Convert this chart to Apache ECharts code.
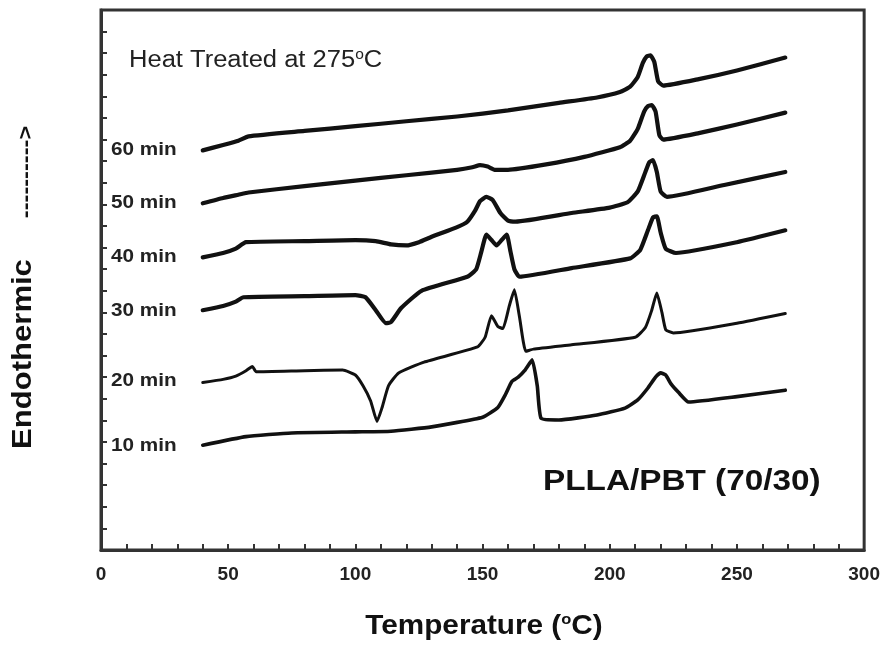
<!DOCTYPE html>
<html>
<head>
<meta charset="utf-8">
<script src="https://cdn.jsdelivr.net/npm/echarts@6/dist/echarts.min.js"></script>
<style>
html,body{margin:0;padding:0;background:#fff;}
#chart{width:883px;height:646px;}
</style>
</head>
<body>
<div id="chart"></div>
<script>
// x tick labels (°C)
const xTicks = [0, 50, 100, 150, 200, 250, 300];
// series names
const curveNames = ['60 min', '50 min', '40 min', '30 min', '20 min', '10 min'];
// DSC traces: [temperature °C, offset heat flow (arb.)]
const min60 = [[40,18.5],[48,18.75],[54,18.95],[58,19.15],[80,19.4],[100,19.62],[120,19.85],[140,20.07],[160,20.35],[180,20.7],[195,20.95],[204,21.2],[208,21.45],[211,21.9],[213,22.55],[214.5,22.85],[216,22.9],[217.5,22.6],[219,21.7],[221,21.5],[235,21.8],[250,22.2],[269,22.8]];
const min50 = [[40,16.05],[48,16.3],[54,16.45],[58,16.55],[80,16.85],[100,17.1],[120,17.35],[140,17.6],[146,17.72],[149,17.82],[152,17.75],[155,17.6],[160,17.6],[175,17.85],[190,18.2],[204,18.65],[208,18.95],[211,19.5],[213.5,20.3],[215,20.55],[216.5,20.6],[218,20.3],[219.5,19.2],[221,19.0],[235,19.3],[250,19.7],[269,20.25]];
const min40 = [[40,13.55],[48,13.75],[53,13.95],[57,14.25],[80,14.3],[100,14.35],[108,14.3],[114,14.15],[120,14.1],[125,14.25],[130,14.5],[140,14.95],[144,15.2],[147,15.7],[149,16.15],[151.5,16.35],[154,16.2],[157,15.6],[160,15.25],[163,15.2],[185,15.6],[200,15.85],[207,16.1],[211,16.6],[214,17.5],[215.5,17.95],[217,18.05],[218.5,17.5],[220,16.6],[222.5,16.35],[245,16.9],[269,17.5]];
const min30 = [[40,11.1],[48,11.3],[53,11.5],[56,11.7],[80,11.75],[100,11.8],[104,11.7],[108,11.1],[112,10.5],[114,10.55],[118,11.2],[126,12.0],[144,12.65],[147.5,13.0],[149.5,13.8],[151.5,14.6],[153.5,14.35],[155.5,14.1],[157.5,14.35],[159.5,14.6],[161,13.8],[162.5,13.0],[164.5,12.65],[185,13.05],[208,13.5],[212,13.9],[215,14.8],[217,15.4],[218.5,15.45],[220,14.7],[222,13.95],[226,13.75],[250,14.25],[269,14.8]];
const min20 = [[40,7.75],[48,7.9],[53,8.05],[57,8.3],[59.5,8.5],[61,8.25],[80,8.3],[95,8.33],[100,8.1],[103,7.6],[106,6.9],[108.5,5.95],[110.5,6.6],[113,7.6],[117,8.2],[127,8.7],[148,9.4],[151,9.85],[153.5,10.85],[156,10.35],[158,10.25],[160.5,11.3],[162.5,12.05],[164.5,10.8],[167,9.2],[170,9.3],[185,9.5],[210,9.85],[214,10.3],[216.5,11.1],[218.5,11.9],[220.5,11.0],[222,10.2],[225,10.05],[250,10.5],[269,10.95]];
const min10 = [[40,4.85],[57,5.25],[75,5.42],[100,5.47],[114,5.5],[130,5.7],[150,6.15],[156,6.6],[159,7.2],[161.5,7.8],[164,8.0],[166.5,8.3],[169.5,8.8],[171.5,7.6],[173,6.1],[180,6.02],[195,6.25],[206,6.57],[211,6.95],[215,7.5],[218,8.0],[220,8.2],[222,8.1],[224,7.7],[227,7.3],[231,6.85],[250,7.1],[269,7.4]];

const traces = [min60, min50, min40, min30, min20, min10];
const widths = [4.2, 4.2, 4.2, 4.2, 3, 3.6];
const labelY = [150, 203, 257, 311, 381, 446];

const chart = echarts.init(document.getElementById('chart'), null, {renderer: 'canvas'});
const FONT = 'Liberation Sans, Arial, sans-serif';

const series = traces.map((d, i) => ({
  name: curveNames[i],
  type: 'line',
  data: d,
  showSymbol: false,
  smooth: 0.15,
  lineStyle: {color: '#111', width: widths[i], join: 'round', cap: 'round'},
  silent: true,
  animation: false
}));

const SX = 1.11;
const graphics = [
  {type: 'text', x: 129, y: 61, scaleX: SX, style: {
    text: '{a|Heat Treated at 275}{s|o}{a|C}',
    align: 'left', verticalAlign: 'middle',
    rich: {
      a: {fontSize: 23, fontFamily: FONT, fill: '#222', lineHeight: 26},
      s: {fontSize: 14, fontFamily: FONT, fill: '#222', verticalAlign: 'top', lineHeight: 26}
    }
  }},
  {type: 'text', x: 543, y: 482, scaleX: SX, style: {
    text: 'PLLA/PBT (70/30)', fontSize: 30, fontWeight: 'bold', fontFamily: FONT, fill: '#111',
    align: 'left', verticalAlign: 'middle'
  }},
  {type: 'text', x: 24, y: 354, rotation: Math.PI / 2, scaleX: 1.15, style: {
    text: 'Endothermic', fontSize: 27, fontWeight: 'bold', fontFamily: FONT, fill: '#111',
    align: 'center', verticalAlign: 'middle'
  }},
  {type: 'text', x: 26, y: 172, rotation: Math.PI / 2, scaleX: 1.18, style: {
    text: '---------->', fontSize: 20, fontWeight: 'bold', fontFamily: FONT, fill: '#111',
    align: 'center', verticalAlign: 'middle'
  }},
  {type: 'text', x: 484, y: 627, scaleX: 1.1, style: {
    text: '{a|Temperature (}{s|o}{a|C)}',
    align: 'center', verticalAlign: 'middle',
    rich: {
      a: {fontSize: 27, fontWeight: 'bold', fontFamily: FONT, fill: '#111', lineHeight: 30},
      s: {fontSize: 15, fontWeight: 'bold', fontFamily: FONT, fill: '#111', verticalAlign: 'top', lineHeight: 30}
    }
  }}
];
curveNames.forEach((n, i) => {
  graphics.push({type: 'text', x: 111, y: labelY[i], scaleX: 1.15, style: {
    text: n, fontSize: 18, fontWeight: 'bold', fontFamily: FONT, fill: '#222',
    align: 'left', verticalAlign: 'middle'
  }});
});

chart.setOption({
  animation: false,
  backgroundColor: '#fff',
  grid: {left: 101, top: 10, width: 765, height: 540, show: true, borderColor: '#333', borderWidth: 3, backgroundColor: 'transparent'},
  xAxis: {
    type: 'value', min: xTicks[0], max: xTicks[xTicks.length - 1], interval: 50,
    axisLine: {lineStyle: {color: '#333', width: 3}},
    axisTick: {inside: true, length: 6, lineStyle: {color: '#333', width: 2}},
    minorTick: {show: true, splitNumber: 5, length: 6, lineStyle: {color: '#333', width: 2}},
    splitLine: {show: false},
    axisLabel: {fontSize: 19, fontWeight: 'bold', color: '#222', fontFamily: FONT, margin: 15}
  },
  yAxis: {
    type: 'value', min: 0, max: 25, interval: 1,
    axisLine: {show: true, lineStyle: {color: '#333', width: 3}},
    axisTick: {show: true, inside: true, length: 6, lineStyle: {color: '#333', width: 2}},
    axisLabel: {show: false},
    splitLine: {show: false}
  },
  series: series,
  graphic: graphics
});
</script>
</body>
</html>
